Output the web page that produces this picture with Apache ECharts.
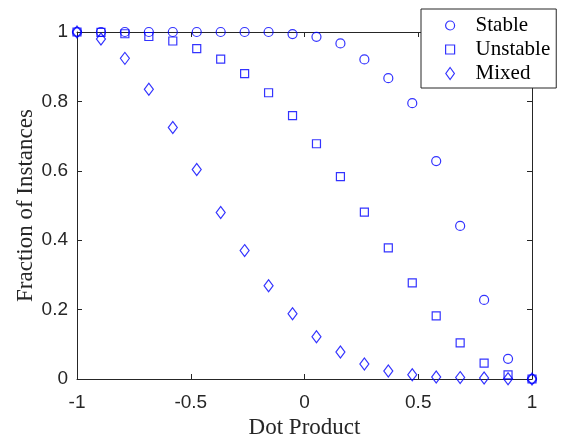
<!DOCTYPE html>
<html>
<head>
<meta charset="utf-8">
<script src="https://cdn.jsdelivr.net/npm/echarts@6/dist/echarts.min.js"></script>
<style>
  html, body { margin: 0; padding: 0; background: #fff; }
  #chart { width: 569px; height: 438px; }
</style>
</head>
<body>
<div id="chart"></div>
<script>
// Dot-product sample positions
const dotProduct = [-1, -0.8947, -0.7895, -0.6842, -0.5789, -0.4737, -0.3684, -0.2632, -0.1579, -0.0526,
                    0.0526, 0.1579, 0.2632, 0.3684, 0.4737, 0.5789, 0.6842, 0.7895, 0.8947, 1];

// Fraction of instances in each class
const stable   = [1, 1, 1, 1, 1, 1, 1, 1, 1, 0.994,
                  0.986, 0.967, 0.921, 0.867, 0.795, 0.628, 0.441, 0.228, 0.058, 0];
const unstable = [1, 0.999, 0.995, 0.987, 0.974, 0.952, 0.922, 0.880, 0.825, 0.759,
                  0.678, 0.583, 0.481, 0.378, 0.277, 0.182, 0.104, 0.046, 0.012, 0];
const mixed    = [1, 0.980, 0.924, 0.835, 0.725, 0.604, 0.480, 0.370, 0.269, 0.188,
                  0.122, 0.078, 0.043, 0.023, 0.012, 0.006, 0.004, 0.003, 0.001, 0];

const xTicks = [-1, -0.5, 0, 0.5, 1];
const yTicks = [0, 0.2, 0.4, 0.6, 0.8, 1];

const seriesNames = ['Stable', 'Unstable', 'Mixed'];

const BLUE = '#0000ff';
const AXIS = '#262626';
const SERIF = '"Liberation Serif", "Times New Roman", serif';
const SANS = '"Liberation Sans", Arial, Helvetica, sans-serif';

function pairs(ys) {
  return dotProduct.map((x, i) => [x, ys[i]]);
}

function axisBase(extra) {
  return Object.assign({
    type: 'value',
    axisLine: { show: true, onZero: false, lineStyle: { color: AXIS, width: 1 } },
    axisTick: { show: true, inside: true, length: 5, lineStyle: { color: AXIS, width: 1 } },
    splitLine: { show: false },
    axisLabel: { color: AXIS, fontFamily: SANS, fontSize: 19 }
  }, extra);
}

const markerStyle = { color: 'transparent', borderColor: BLUE, borderWidth: 1.2 };

const option = {
  animation: false,
  backgroundColor: '#fff',
  grid: { left: 77, right: 37, top: 32, bottom: 59, containLabel: false, outerBoundsMode: 'none' },
  xAxis: [
    axisBase({
      min: -1, max: 1, interval: 0.5, position: 'bottom',
      name: 'Dot Product', nameLocation: 'middle', nameGap: 36,
      nameTextStyle: { color: AXIS, fontFamily: SERIF, fontSize: 23 },
      axisLabel: {
        color: AXIS, fontFamily: SANS, fontSize: 19, margin: 14,
        formatter: v => xTicks.includes(v) ? String(v) : ''
      }
    }),
    axisBase({
      min: -1, max: 1, interval: 0.5, position: 'top',
      axisLabel: { show: false }
    })
  ],
  yAxis: [
    axisBase({
      min: 0, max: 1, interval: 0.2, position: 'left',
      name: 'Fraction of Instances', nameLocation: 'middle', nameGap: 40,
      nameMoveOverlap: false,
      nameTextStyle: { color: AXIS, fontFamily: SERIF, fontSize: 23 },
      axisLabel: {
        color: AXIS, fontFamily: SANS, fontSize: 19, margin: 9,
        formatter: v => {
          const t = yTicks.find(k => Math.abs(k - v) < 1e-9);
          return t === undefined ? '' : String(t);
        }
      }
    }),
    axisBase({
      min: 0, max: 1, interval: 0.2, position: 'right',
      axisLabel: { show: false }
    })
  ],
  legend: {
    orient: 'vertical',
    left: 421, top: 9,
    backgroundColor: '#fff',
    borderColor: AXIS, borderWidth: 1, borderRadius: 0,
    padding: [6, 6, 4, 24],
    itemWidth: 9, itemHeight: 12, itemGap: 3,
    itemStyle: { color: 'transparent', borderColor: BLUE, borderWidth: 1.2 },
    textStyle: { color: '#000', fontFamily: SERIF, fontSize: 21, lineHeight: 18, padding: [0, 0, 0, 16] },
    data: [
      { name: seriesNames[0], icon: 'circle' },
      { name: seriesNames[1], icon: 'path://M0,0L8,0L8,8L0,8Z' },
      { name: seriesNames[2], icon: 'path://M5,0L10,7L5,14L0,7Z' }
    ]
  },
  series: [
    {
      name: seriesNames[0], type: 'scatter', clip: false,
      symbol: 'circle', symbolSize: 9,
      itemStyle: markerStyle, emphasis: { disabled: true },
      data: pairs(stable)
    },
    {
      name: seriesNames[1], type: 'scatter', clip: false,
      symbol: 'rect', symbolSize: 8,
      itemStyle: markerStyle, emphasis: { disabled: true },
      data: pairs(unstable)
    },
    {
      name: seriesNames[2], type: 'scatter', clip: false,
      symbol: 'diamond', symbolSize: [9, 12],
      itemStyle: markerStyle, emphasis: { disabled: true },
      data: pairs(mixed)
    }
  ]
};

const chart = echarts.init(document.getElementById('chart'), null, { renderer: 'canvas' });
chart.setOption(option);
</script>
</body>
</html>
